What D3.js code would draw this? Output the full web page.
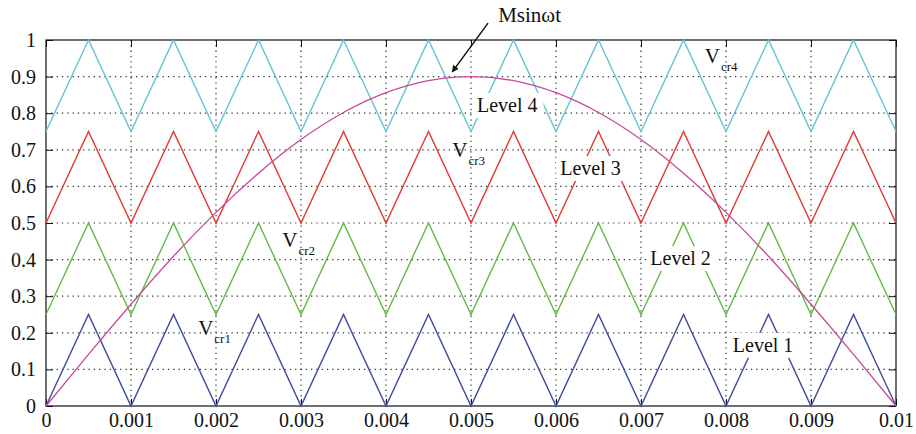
<!DOCTYPE html>
<html>
<head>
<meta charset="utf-8">
<script src="https://cdn.jsdelivr.net/npm/d3@7"></script>
<style>
  body { margin: 0; background: #fff; }
  text { font-family: "Liberation Serif", "DejaVu Serif", serif; fill: #111; }
</style>
</head>
<body>
<div id="chart"></div>
<script>
// tick values and labels
var xTicks = [0, 0.001, 0.002, 0.003, 0.004, 0.005, 0.006, 0.007, 0.008, 0.009, 0.01];
var xTickLabels = ["0", "0.001", "0.002", "0.003", "0.004", "0.005", "0.006", "0.007", "0.008", "0.009", "0.01"];
var yTicks = [0, 0.1, 0.2, 0.3, 0.4, 0.5, 0.6, 0.7, 0.8, 0.9, 1];
var yTickLabels = ["0", "0.1", "0.2", "0.3", "0.4", "0.5", "0.6", "0.7", "0.8", "0.9", "1"];

// time samples (carrier vertices every half period)
var times = [0, 0.0005, 0.001, 0.0015, 0.002, 0.0025, 0.003, 0.0035, 0.004, 0.0045, 0.005,
             0.0055, 0.006, 0.0065, 0.007, 0.0075, 0.008, 0.0085, 0.009, 0.0095, 0.01];

// carrier triangle vertices
var vcr1 = [0, 0.25, 0, 0.25, 0, 0.25, 0, 0.25, 0, 0.25, 0, 0.25, 0, 0.25, 0, 0.25, 0, 0.25, 0, 0.25, 0];
var vcr2 = [0.25, 0.5, 0.25, 0.5, 0.25, 0.5, 0.25, 0.5, 0.25, 0.5, 0.25, 0.5, 0.25, 0.5, 0.25, 0.5, 0.25, 0.5, 0.25, 0.5, 0.25];
var vcr3 = [0.5, 0.75, 0.5, 0.75, 0.5, 0.75, 0.5, 0.75, 0.5, 0.75, 0.5, 0.75, 0.5, 0.75, 0.5, 0.75, 0.5, 0.75, 0.5, 0.75, 0.5];
var vcr4 = [0.75, 1, 0.75, 1, 0.75, 1, 0.75, 1, 0.75, 1, 0.75, 1, 0.75, 1, 0.75, 1, 0.75, 1, 0.75, 1, 0.75];

// reference wave M sin(wt)
var msin = [0, 0.141, 0.278, 0.409, 0.529, 0.636, 0.728, 0.802, 0.856, 0.889, 0.9,
            0.889, 0.856, 0.802, 0.728, 0.636, 0.529, 0.409, 0.278, 0.141, 0];

var margin = {top: 40, right: 20, bottom: 28, left: 46};
var width = 916 - margin.left - margin.right,
    height = 434 - margin.top - margin.bottom;

var svg = d3.select("#chart").append("svg")
  .attr("width", 916)
  .attr("height", 434)
  .append("g")
  .attr("transform", "translate(" + margin.left + "," + margin.top + ")");

var x = d3.scaleLinear().domain([0, 0.01]).range([0, width]);
var y = d3.scaleLinear().domain([0, 1]).range([height, 0]);

// dotted grid
svg.append("g").selectAll("line")
  .data(xTicks.slice(1, -1))
  .enter().append("line")
  .attr("x1", function(d) { return x(d); })
  .attr("x2", function(d) { return x(d); })
  .attr("y1", 0).attr("y2", height)
  .attr("stroke", "#333").attr("stroke-width", 1.2)
  .attr("stroke-dasharray", "1.3,4");

svg.append("g").selectAll("line")
  .data(yTicks.slice(1, -1))
  .enter().append("line")
  .attr("y1", function(d) { return y(d); })
  .attr("y2", function(d) { return y(d); })
  .attr("x1", 0).attr("x2", width)
  .attr("stroke", "#333").attr("stroke-width", 1.2)
  .attr("stroke-dasharray", "1.3,4");

// axes: ticks pointing inward on all four sides
var xAxis = d3.axisBottom(x).tickValues(xTicks)
  .tickFormat(function(d, i) { return xTickLabels[i]; })
  .tickSizeInner(-7).tickSizeOuter(0).tickPadding(7);
var yAxis = d3.axisLeft(y).tickValues(yTicks)
  .tickFormat(function(d, i) { return yTickLabels[i]; })
  .tickSizeInner(-7).tickSizeOuter(0).tickPadding(10);

svg.append("g").attr("class", "x-axis")
  .attr("transform", "translate(0," + height + ")")
  .call(xAxis);
svg.append("g").attr("class", "y-axis").call(yAxis);
svg.append("g")
  .call(d3.axisTop(x).tickValues(xTicks).tickFormat("").tickSizeInner(-7).tickSizeOuter(0));
svg.append("g")
  .attr("transform", "translate(" + width + ",0)")
  .call(d3.axisRight(y).tickValues(yTicks).tickFormat("").tickSizeInner(-7).tickSizeOuter(0));

svg.selectAll(".tick text")
  .style("font-family", "Liberation Serif, DejaVu Serif, serif")
  .style("font-size", "20px")
  .attr("fill", "#111");
svg.selectAll(".domain").remove();
svg.selectAll(".tick line").attr("stroke", "#111");

svg.append("rect")
  .attr("width", width).attr("height", height)
  .attr("fill", "none").attr("stroke", "#111").attr("stroke-width", 1.2);

// lines
var line = d3.line()
  .x(function(d) { return x(d[0]); })
  .y(function(d) { return y(d[1]); });

var series = [
  {values: vcr1, color: "#3d4c9e"},
  {values: vcr2, color: "#62bb47"},
  {values: vcr3, color: "#e23a35"},
  {values: vcr4, color: "#66c4d3"}
];

series.forEach(function(s) {
  svg.append("path")
    .datum(times.map(function(t, i) { return [t, s.values[i]]; }))
    .attr("fill", "none")
    .attr("stroke", s.color)
    .attr("stroke-width", 1.4)
    .attr("d", line);
});

svg.append("path")
  .datum(times.map(function(t, i) { return [t, msin[i]]; }))
  .attr("fill", "none")
  .attr("stroke", "#c9489a")
  .attr("stroke-width", 1.3)
  .attr("d", line.curve(d3.curveNatural));

// level labels with white boxes
var levels = [
  {text: "Level 4", t: 0.00507, v: 0.803},
  {text: "Level 3", t: 0.00605, v: 0.631},
  {text: "Level 2", t: 0.00711, v: 0.385},
  {text: "Level 1", t: 0.00808, v: 0.148}
];

levels.forEach(function(l) {
  var g = svg.append("g");
  var txt = g.append("text")
    .attr("x", x(l.t)).attr("y", y(l.v))
    .style("font-size", "20px")
    .text(l.text);
  var bb = txt.node().getBBox();
  g.insert("rect", "text")
    .attr("x", bb.x - 4).attr("y", bb.y - 1)
    .attr("width", bb.width + 10).attr("height", bb.height + 3)
    .attr("fill", "#fff");
});

// carrier labels
var carriers = [
  {sub: "cr1", t: 0.00179, v: 0.194},
  {sub: "cr2", t: 0.00278, v: 0.434},
  {sub: "cr3", t: 0.00478, v: 0.680},
  {sub: "cr4", t: 0.00775, v: 0.937}
];

carriers.forEach(function(c) {
  var txt = svg.append("text")
    .attr("x", x(c.t)).attr("y", y(c.v))
    .style("font-size", "21px");
  txt.append("tspan").text("V");
  txt.append("tspan").attr("dy", 8).attr("dx", 1).style("font-size", "13px").text(c.sub);
});

// arrow annotation
svg.append("defs").append("marker")
  .attr("id", "arrow")
  .attr("viewBox", "0 0 10 10")
  .attr("refX", 9).attr("refY", 5)
  .attr("markerWidth", 7).attr("markerHeight", 7)
  .attr("markerUnits", "userSpaceOnUse")
  .attr("orient", "auto")
  .append("path")
  .attr("d", "M0,0L10,5L0,10z")
  .attr("fill", "#111");

svg.append("line")
  .attr("x1", x(0.0052)).attr("y1", y(1.046))
  .attr("x2", x(0.00478)).attr("y2", y(0.913))
  .attr("stroke", "#111").attr("stroke-width", 1.5)
  .attr("marker-end", "url(#arrow)");

svg.append("text")
  .attr("x", x(0.00532)).attr("y", y(1.05))
  .style("font-size", "21px")
  .text("Msinωt");
</script>
</body>
</html>
